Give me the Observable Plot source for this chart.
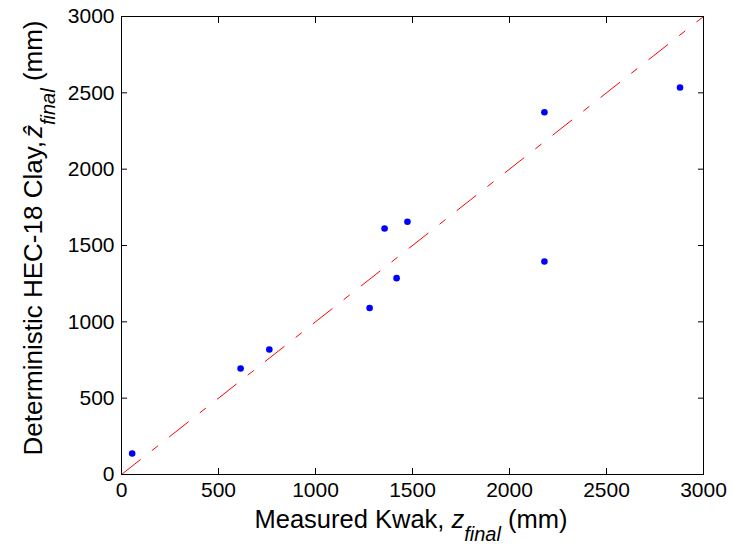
<!DOCTYPE html>
<html>
<head>
<meta charset="utf-8">
<script src="https://cdn.jsdelivr.net/npm/d3@7"></script>
<script src="https://cdn.jsdelivr.net/npm/@observablehq/plot@0.6"></script>
<style>
  html, body { margin: 0; padding: 0; background: white; }
</style>
</head>
<body>
<div id="chart"></div>
<script>
const measured  = [55, 614, 762, 1279, 1356, 1418, 1474, 2180, 2180, 2879];
const predicted = [138, 694, 819, 1091, 1611, 1286, 1656, 2373, 1395, 2535];
const identityLine = [0, 3000];
const xTicks = [0, 500, 1000, 1500, 2000, 2500, 3000];
const yTicks = [0, 500, 1000, 1500, 2000, 2500, 3000];

const points = measured.map((m, i) => ({measured: m, predicted: predicted[i]}));
const font = "'Liberation Sans', Arial, Helvetica, sans-serif";

const plot = Plot.plot({
  width: 733,
  height: 550,
  marginLeft: 121,
  marginRight: 30,
  marginTop: 16,
  marginBottom: 76,
  style: {fontFamily: font, fontSize: "21px", background: "white", color: "black"},
  x: {domain: [0, 3000]},
  y: {domain: [0, 3000]},
  marks: [
    Plot.line(identityLine, {x: d => d, y: d => d, stroke: "red", strokeWidth: 1, strokeDasharray: "24,15,7,15"}),
    Plot.dot(points, {x: "measured", y: "predicted", r: 3.3, fill: "blue", stroke: null}),
    Plot.frame({stroke: "black", strokeWidth: 1}),
    Plot.axisX({anchor: "bottom", ticks: xTicks, tickSize: -6, tickPadding: 14, label: null, fontSize: 21, tickFormat: d => String(d)}),
    Plot.axisX({anchor: "top", ticks: xTicks, tickSize: -6, label: null, tickFormat: () => ""}),
    Plot.axisY({anchor: "left", ticks: yTicks, tickSize: -6, tickPadding: 13, label: null, fontSize: 21, tickFormat: d => String(d)}),
    Plot.axisY({anchor: "right", ticks: yTicks, tickSize: -6, label: null, tickFormat: () => ""})
  ]
});

document.getElementById("chart").appendChild(plot);

const svg = d3.select(plot);
// X axis label
const xl = svg.append("text")
  .attr("x", 411).attr("y", 528)
  .attr("text-anchor", "middle")
  .attr("font-family", font).attr("font-size", 25.5).attr("fill", "black");
xl.append("tspan").text("Measured Kwak, ");
xl.append("tspan").attr("font-style", "italic").text("z");
xl.append("tspan").attr("font-style", "italic").attr("font-size", 20).attr("dy", 13).text("final");
xl.append("tspan").attr("dy", -13).text(" (mm)");

// Y axis label
const yl = svg.append("text")
  .attr("transform", "translate(42,238) rotate(-90)")
  .attr("text-anchor", "middle")
  .attr("font-family", font).attr("font-size", 26).attr("fill", "black");
yl.append("tspan").text("Deterministic HEC-18 Clay,");
yl.append("tspan").attr("font-style", "italic").attr("dx", 3).text("\u1E91");
yl.append("tspan").attr("font-style", "italic").attr("font-size", 20).attr("dy", 13).text("final");
yl.append("tspan").attr("dy", -13).text(" (mm)");
</script>
</body>
</html>
